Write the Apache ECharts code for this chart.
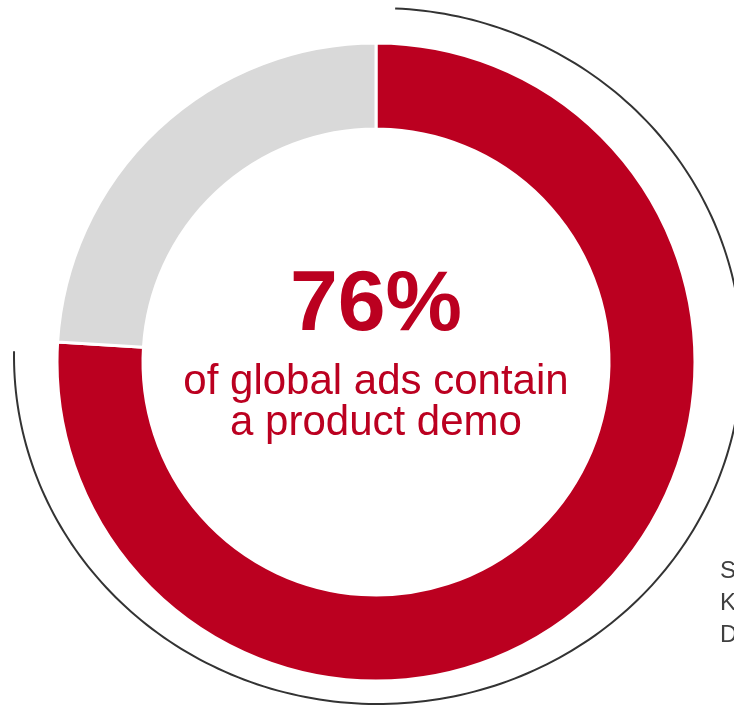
<!DOCTYPE html>
<html>
<head>
<meta charset="utf-8">
<script src="https://cdn.jsdelivr.net/npm/echarts@6/dist/echarts.min.js"></script>
<style>
  html, body { margin: 0; padding: 0; background: #ffffff; }
  #chart { width: 734px; height: 708px; }
</style>
</head>
<body>
<div id="chart"></div>
<script>
// Share of global ads that contain a product demo
const categories = ['Contain a product demo', 'Other ads'];
const shares = [76, 24];
const sliceColors = ['#bb0020', '#d9d9d9'];
const captionLines = ['of global ads contain', 'a product demo'];
const sourceLines = ['Source:', 'Kantar', 'Data'];

const RED = '#bb0020';
const FONT = '"Liberation Sans", Arial, sans-serif';

// Thin bracket arc hugging the highlighted share (slightly elliptical outline)
function bracketPoints(cx, cy, rx, ry, fromDeg, toDeg) {
  const pts = [];
  const steps = 240;
  for (let i = 0; i <= steps; i++) {
    const t = (fromDeg + (toDeg - fromDeg) * i / steps) * Math.PI / 180;
    pts.push([cx + rx * Math.sin(t), cy - ry * Math.cos(t)]);
  }
  return pts;
}

const chart = echarts.init(document.getElementById('chart'), null, { renderer: 'canvas' });

chart.setOption({
  backgroundColor: '#ffffff',
  animation: false,
  series: [{
    type: 'pie',
    center: [376, 362],
    radius: [233, 319],
    startAngle: 90,
    clockwise: true,
    silent: true,
    label: { show: false },
    labelLine: { show: false },
    itemStyle: { borderColor: '#ffffff', borderWidth: 3 },
    data: categories.map((name, i) => ({
      name: name,
      value: shares[i],
      itemStyle: { color: sliceColors[i] }
    }))
  }],
  graphic: [
    {
      type: 'polyline',
      silent: true,
      shape: { points: bracketPoints(378, 356, 364, 348, 2.7, 270.8) },
      style: { stroke: '#333333', lineWidth: 2, fill: null }
    },
    {
      type: 'text',
      x: 376, y: 306,
      style: {
        text: shares[0] + '%',
        font: 'bold 86px ' + FONT,
        fill: RED,
        align: 'center',
        verticalAlign: 'middle'
      }
    },
    {
      type: 'text',
      x: 376, y: 382,
      style: {
        text: captionLines[0],
        font: '42px ' + FONT,
        fill: RED,
        align: 'center',
        verticalAlign: 'middle'
      }
    },
    {
      type: 'text',
      x: 376, y: 423,
      style: {
        text: captionLines[1],
        font: '42px ' + FONT,
        fill: RED,
        align: 'center',
        verticalAlign: 'middle'
      }
    },
    {
      type: 'text',
      x: 720, y: 555,
      style: {
        text: sourceLines.join('\n'),
        font: '24px ' + FONT,
        lineHeight: 32,
        fill: '#404040',
        align: 'left',
        verticalAlign: 'top'
      }
    }
  ]
});
</script>
</body>
</html>
